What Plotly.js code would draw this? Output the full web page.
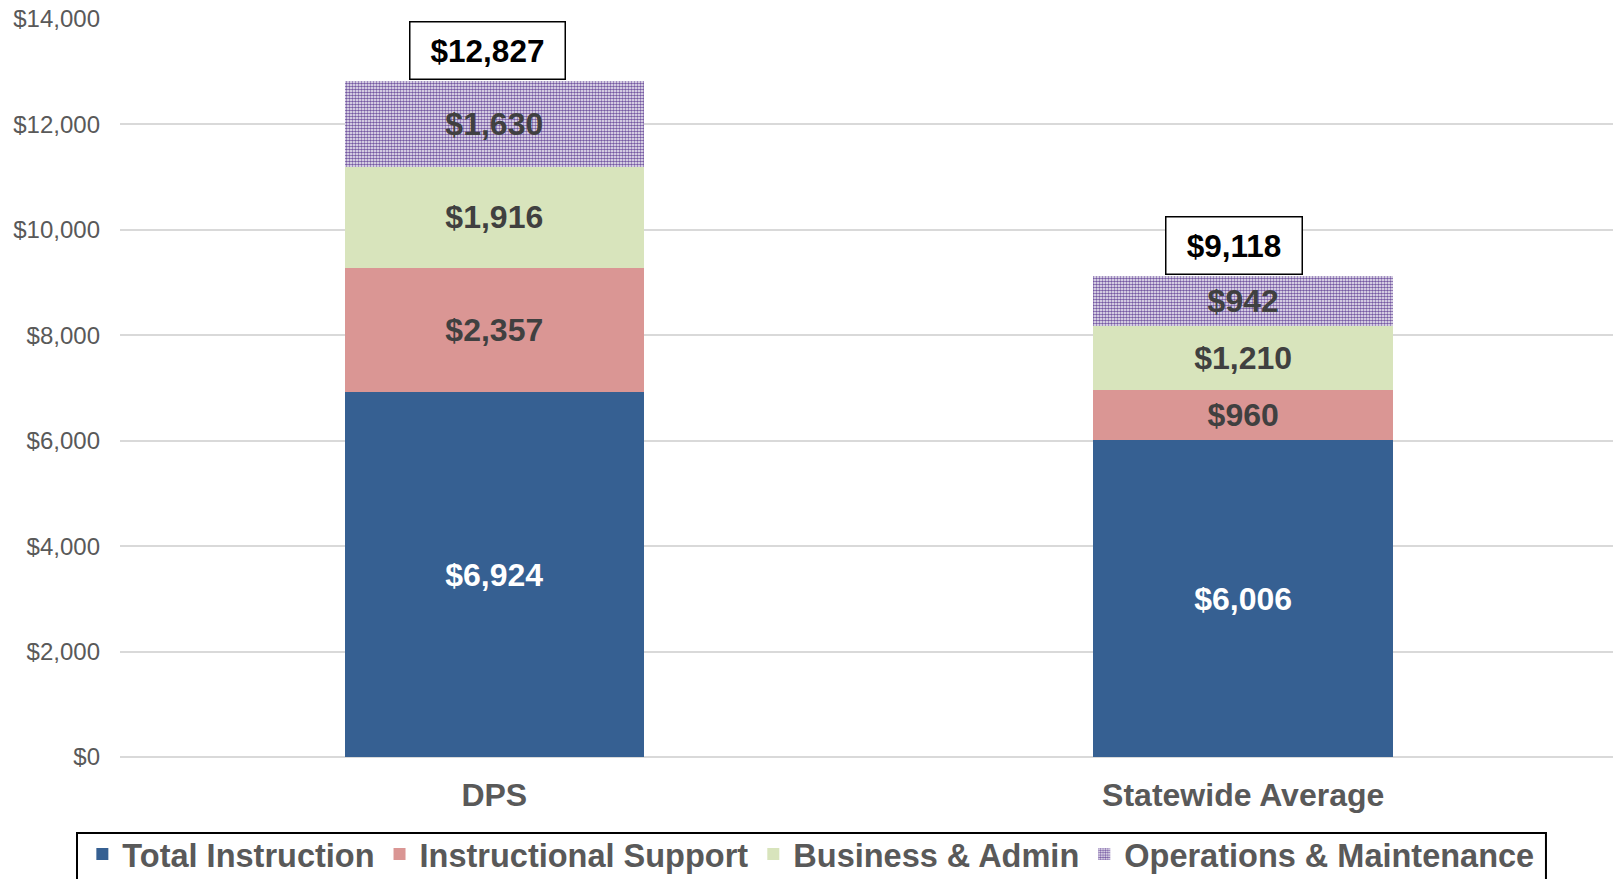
<!DOCTYPE html>
<html>
<head>
<meta charset="utf-8">
<script src="https://cdn.plot.ly/plotly-3.0.1.min.js"></script>
<style>
  html, body { margin: 0; padding: 0; background: #fff; }
  #chart { width: 1613px; height: 879px; }
</style>
</head>
<body>
<div id="chart"></div>
<script>
// data
let districts = ['DPS', 'Statewide Average'];
let totalInstruction = [6924, 6006];
let instructionalSupport = [2357, 960];
let businessAdmin = [1916, 1210];
let operationsMaint = [1630, 942];
let totals = [12827, 9118];

let fontFam = '"Liberation Sans", Arial, sans-serif';
let gray = '#595959';

function barTrace(name, vals, color, labelColor) {
  return {
    type: 'bar',
    name: name,
    x: districts,
    y: vals,
    marker: { color: color, line: { width: 0 } },
    texttemplate: '$%{y:,}',
    textposition: 'inside',
    insidetextanchor: 'middle',
    textangle: 0,
    textfont: { family: fontFam, size: 32, weight: 'bold', color: labelColor },
    hoverinfo: 'skip'
  };
}

let traces = [
  barTrace('Total Instruction', totalInstruction, '#366092', '#ffffff'),
  barTrace('Instructional Support', instructionalSupport, '#da9694', '#404040'),
  barTrace('Business & Admin', businessAdmin, '#d8e4bc', '#404040'),
  barTrace('Operations & Maintenance', operationsMaint, '#ffffff', '#404040')
];
// checkered purple fill for O&M
traces[3].marker.pattern = { shape: '.', size: 3, solidity: 0.6, fgcolor: '#7559a2', bgcolor: '#ffffff' };

// boxed totals above each bar
let boxWidths = [150, 131];
let boxShift = [-7, -9.5];
let annotations = districts.map((d, i) => ({
  x: d,
  y: totals[i],
  xref: 'x',
  yref: 'y',
  text: '$' + totals[i].toLocaleString('en-US'),
  showarrow: false,
  yanchor: 'bottom',
  xshift: boxShift[i],
  yshift: 1,
  width: boxWidths[i],
  height: 52,
  borderpad: 2,
  bordercolor: '#000000',
  borderwidth: 1.5,
  bgcolor: '#ffffff',
  font: { family: fontFam, size: 31.5, weight: 'bold', color: '#000000' }
}));

let layout = {
  width: 1613,
  height: 879,
  margin: { l: 120, r: 0, t: 19, b: 122 },
  paper_bgcolor: '#ffffff',
  plot_bgcolor: '#ffffff',
  barmode: 'stack',
  bargap: 0.6,
  showlegend: true,
  separators: '.,',
  xaxis: {
    type: 'category',
    range: [-0.4998, 1.4938],
    showgrid: false,
    showline: false,
    ticks: '',
    ticklabelstandoff: 16,
    tickfont: { family: fontFam, size: 32, weight: 'bold', color: gray }
  },
  yaxis: {
    range: [0, 14000],
    dtick: 2000,
    tickprefix: '$',
    tickformat: ',d',
    showgrid: true,
    gridcolor: '#d9d9d9',
    gridwidth: 2,
    zeroline: true,
    zerolinecolor: '#d9d9d9',
    zerolinewidth: 2,
    ticks: '',
    ticklabelstandoff: 19,
    tickfont: { family: fontFam, size: 24, color: gray }
  },
  legend: {
    orientation: 'h',
    xref: 'container',
    yref: 'container',
    x: 0.5027,
    xanchor: 'center',
    y: 0.060,
    yanchor: 'top',
    borderwidth: 0,
    bgcolor: 'rgba(0,0,0,0)',
    traceorder: 'normal',
    font: { family: fontFam, size: 32.5, weight: 'bold', color: gray }
  },
  // legend frame, runs off the bottom like the original
  shapes: [{
    type: 'rect',
    xref: 'paper', yref: 'paper',
    x0: -0.0288, x1: 0.9551,
    y0: -0.103, y1: -0.19,
    line: { color: '#000000', width: 2 },
    fillcolor: 'rgba(0,0,0,0)',
    layer: 'below'
  }],
  annotations: annotations
};

Plotly.newPlot('chart', traces, layout, { displayModeBar: false, staticPlot: true });
</script>
</body>
</html>
